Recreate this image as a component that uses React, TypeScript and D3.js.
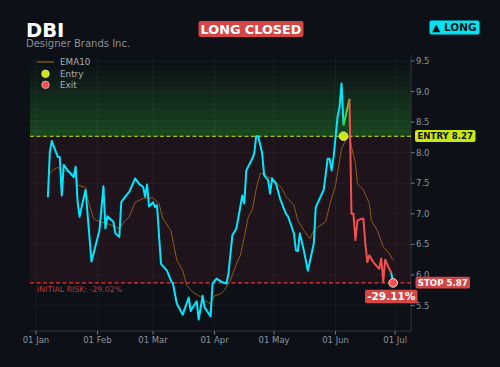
import React, { useEffect, useRef } from 'react';
import * as d3 from 'd3';

// Daily closes, as day offsets from 01 Jan 2025
const priceDay = [6, 7, 8, 11, 12, 13, 14, 16, 19, 20, 21, 22, 23, 25, 28, 32, 34, 35, 36, 39, 40, 42, 43, 45, 47, 50, 52, 54, 55, 56, 57, 59, 60, 61, 63, 66, 68, 69, 71, 74, 75, 77, 78, 79, 81, 82, 84, 85, 88, 89, 91, 94, 96, 97, 99, 101, 104, 105, 106, 109, 110, 111, 112, 114, 115, 117, 118, 119, 121, 123, 126, 127, 130, 131, 132, 133, 135, 137, 140, 141, 145, 147, 148, 149, 150, 152, 153, 154, 155, 158, 159, 160, 161, 162, 164, 165, 166, 167, 168, 170, 173, 174, 175, 176, 178, 179, 180];
const priceClose = [7.27, 8.01, 8.19, 7.93, 7.93, 7.30, 7.80, 7.71, 7.60, 7.77, 7.19, 6.95, 7.11, 7.39, 6.22, 6.73, 7.45, 6.76, 6.96, 6.87, 6.68, 6.62, 7.19, 7.28, 7.36, 7.58, 7.49, 7.44, 7.28, 7.48, 7.12, 7.19, 7.11, 7.14, 6.18, 6.07, 5.91, 5.86, 5.53, 5.35, 5.45, 5.63, 5.41, 5.47, 5.57, 5.27, 5.66, 5.47, 5.32, 5.86, 5.94, 5.88, 5.86, 6.02, 6.65, 6.76, 7.30, 7.17, 7.71, 7.90, 7.99, 8.27, 8.27, 7.99, 7.63, 7.55, 7.33, 7.58, 7.49, 7.25, 7.00, 6.96, 6.68, 6.40, 6.39, 6.68, 6.40, 6.07, 6.51, 7.11, 7.39, 7.90, 7.90, 7.71, 7.93, 8.59, 8.75, 9.13, 8.45, 8.88, 7.00, 7.00, 6.57, 6.89, 6.92, 6.92, 6.51, 6.21, 6.32, 6.21, 6.10, 6.27, 5.89, 6.25, 6.10, 6.04, 5.87];

const emaDay = [7, 8, 11, 13, 15, 18, 20, 21, 25, 26, 29, 32, 36, 39, 42, 45, 47, 50, 54, 57, 59, 62, 64, 68, 71, 74, 76, 79, 83, 85, 88, 90, 93, 95, 98, 101, 103, 105, 107, 109, 111, 113, 115, 117, 119, 121, 124, 126, 130, 132, 135, 138, 140, 142, 146, 148, 151, 154, 156, 158, 159, 161, 162, 165, 168, 169, 172, 175, 178, 180];
const emaValue = [7.65, 7.70, 7.76, 7.72, 7.70, 7.67, 7.65, 7.47, 7.43, 7.25, 6.92, 6.87, 6.84, 6.80, 6.76, 6.89, 6.95, 7.19, 7.25, 7.26, 7.26, 7.17, 6.92, 6.73, 6.24, 6.07, 5.83, 5.72, 5.64, 5.58, 5.53, 5.66, 5.69, 5.75, 5.91, 6.18, 6.32, 6.62, 6.95, 7.06, 7.41, 7.66, 7.66, 7.60, 7.58, 7.52, 7.41, 7.28, 7.14, 6.89, 6.73, 6.59, 6.73, 6.78, 6.87, 7.14, 7.47, 8.07, 8.20, 8.26, 8.10, 7.82, 7.49, 7.39, 7.17, 6.89, 6.73, 6.46, 6.35, 6.24];

// trade
const entryDay = 155;
const peakDay = 158;
const lastRedDay = 179;
const exitDay = 180;
const entryPrice = 8.27;
const stopPrice = 5.87;
const tradeReturn = '-29.11%';
const initialRisk = '-29.02%';

const yTicks = [5.5, 6.0, 6.5, 7.0, 7.5, 8.0, 8.5, 9.0, 9.5];

const BG = '#0d1117';
const CYAN = '#00e8ff';
const GREEN = '#3ae02a';
const RED = '#f0524f';
const ENTRY_C = '#cbe80c';
const BADGE_RED = '#d64545';
const FONT = 'DejaVu Sans, sans-serif';

const base = new Date(2025, 0, 1);
const toDate = (d: number) => d3.timeDay.offset(base, d);

export default function App() {
  const svgRef = useRef<SVGSVGElement>(null);

  useEffect(() => {
    const width = 500;
    const height = 367;
    const left = 30, right = 411, top = 55, bottom = 331;

    const svg = d3.select(svgRef.current);
    svg.selectAll('*').remove();
    svg.attr('width', width).attr('height', height);

    svg.append('rect').attr('width', width).attr('height', height).attr('fill', BG);

    const x = d3.scaleTime()
      .domain([new Date(2024, 11, 29), new Date(2025, 6, 9)])
      .range([left, right]);
    const y = d3.scaleLinear().domain([5.083, 9.598]).range([bottom, top]);

    const prices = priceDay.map((d, i) => ({ date: toDate(d), day: d, v: priceClose[i] }));
    const ema = emaDay.map((d, i) => ({ date: toDate(d), v: emaValue[i] }));

    // profit zone (gradient bands above entry)
    const yEntry = y(entryPrice);
    const yStop = y(stopPrice);
    const bands = 45;
    const bandH = (yEntry - top) / bands;
    const zone = svg.append('g');
    for (let i = 0; i < bands; i++) {
      const t = (i + 1) / bands;
      zone.append('rect')
        .attr('x', left).attr('width', right - left)
        .attr('y', top + i * bandH).attr('height', bandH + 0.3)
        .attr('fill', '#2e9a2e')
        .attr('opacity', 0.36 * Math.pow(t, 1.3) * (i % 3 === 0 ? 1.15 : 1));
    }
    // risk zone
    svg.append('rect')
      .attr('x', left).attr('width', right - left)
      .attr('y', yEntry).attr('height', yStop - yEntry)
      .attr('fill', '#c83240').attr('opacity', 0.1);

    // grid
    const monthTicks = d3.timeMonth.range(new Date(2025, 0, 1), new Date(2025, 6, 2));
    const grid = svg.append('g').attr('stroke', '#ffffff').attr('stroke-opacity', 0.05).attr('stroke-width', 0.8);
    monthTicks.forEach(m => {
      grid.append('line').attr('x1', x(m)).attr('x2', x(m)).attr('y1', top).attr('y2', bottom);
    });
    yTicks.forEach(t => {
      grid.append('line').attr('x1', left).attr('x2', right).attr('y1', y(t)).attr('y2', y(t));
    });

    // spines
    svg.append('line').attr('x1', right).attr('x2', right).attr('y1', top).attr('y2', bottom)
      .attr('stroke', '#30363d').attr('stroke-width', 1);
    svg.append('line').attr('x1', left).attr('x2', right).attr('y1', bottom).attr('y2', bottom)
      .attr('stroke', '#30363d').attr('stroke-width', 1);

    // y axis
    const yAxis = svg.append('g');
    yTicks.forEach(t => {
      yAxis.append('line').attr('x1', right).attr('x2', right + 3.5).attr('y1', y(t)).attr('y2', y(t))
        .attr('stroke', '#8b949e').attr('stroke-width', 0.8);
      yAxis.append('text').attr('x', right + 5).attr('y', y(t) + 3)
        .attr('font-family', FONT).attr('font-size', 8.5).attr('fill', '#8b949e')
        .text(t.toFixed(1));
    });

    // x axis
    const fmt = d3.timeFormat('%d %b');
    const xAxis = svg.append('g');
    monthTicks.forEach(m => {
      xAxis.append('line').attr('x1', x(m)).attr('x2', x(m)).attr('y1', bottom).attr('y2', bottom + 3.5)
        .attr('stroke', '#8b949e').attr('stroke-width', 0.8);
      xAxis.append('text').attr('x', x(m)).attr('y', bottom + 12)
        .attr('text-anchor', 'middle')
        .attr('font-family', FONT).attr('font-size', 8.5).attr('fill', '#8b949e')
        .text(fmt(m));
    });

    // entry / stop lines
    svg.append('line').attr('x1', left).attr('x2', right).attr('y1', yEntry).attr('y2', yEntry)
      .attr('stroke', ENTRY_C).attr('stroke-width', 1.1).attr('stroke-dasharray', '4,2.5');
    svg.append('line').attr('x1', left).attr('x2', right).attr('y1', yStop).attr('y2', yStop)
      .attr('stroke', '#e5393b').attr('stroke-width', 1.1).attr('stroke-dasharray', '4,2.5');

    svg.append('text').attr('x', 37).attr('y', 291.5)
      .attr('font-family', FONT).attr('font-size', 7.8).attr('fill', '#b83a3c')
      .text(`INITIAL RISK: ${initialRisk}`);

    // EMA
    const line = d3.line<{ date: Date; v: number }>().x(d => x(d.date)).y(d => y(d.v));
    svg.append('path').datum(ema).attr('d', line)
      .attr('fill', 'none').attr('stroke', '#8d5a1b').attr('stroke-width', 1);

    // price segments
    const seg = (a: number, b: number, color: string) => {
      svg.append('path')
        .datum(prices.filter(p => p.day >= a && p.day <= b))
        .attr('d', line)
        .attr('fill', 'none').attr('stroke', color).attr('stroke-width', 2)
        .attr('stroke-linejoin', 'round');
    };
    seg(0, entryDay, CYAN);
    seg(entryDay, peakDay, GREEN);
    seg(peakDay, lastRedDay, RED);
    seg(lastRedDay, exitDay, CYAN);

    // markers
    svg.append('circle').attr('cx', x(toDate(entryDay))).attr('cy', yEntry).attr('r', 4.3)
      .attr('fill', ENTRY_C).attr('stroke', '#f4ffc0').attr('stroke-width', 0.8);
    svg.append('circle').attr('cx', x(toDate(exitDay))).attr('cy', yStop).attr('r', 4.3)
      .attr('fill', RED).attr('stroke', '#ffd8d8').attr('stroke-width', 1);

    // badges
    const badge = (bx: number, by: number, bw: number, bh: number, fill: string, label: string,
      color: string, size: number) => {
      svg.append('rect').attr('x', bx).attr('y', by).attr('width', bw).attr('height', bh)
        .attr('rx', 2).attr('fill', fill);
      svg.append('text').attr('x', bx + bw / 2).attr('y', by + bh / 2 + size * 0.36)
        .attr('text-anchor', 'middle')
        .attr('font-family', FONT).attr('font-weight', 'bold').attr('font-size', size).attr('fill', color)
        .text(label);
    };
    badge(415, 130, 60.5, 12, ENTRY_C, `ENTRY ${entryPrice.toFixed(2)}`, '#0d1117', 8.6);
    badge(415.5, 276.8, 54.5, 11.8, BADGE_RED, `STOP ${stopPrice.toFixed(2)}`, '#ffffff', 8.6);
    badge(365, 289.8, 52.5, 13.5, BADGE_RED, tradeReturn, '#ffffff', 10.5);
    badge(198.5, 21, 105, 16, BADGE_RED, 'LONG CLOSED', '#ffffff', 12.8);
    badge(429.5, 20.5, 50, 14, '#00e5f5', '▲ LONG', '#0d1117', 10.5);

    // title
    svg.append('text').attr('x', 26).attr('y', 36.8)
      .attr('font-family', FONT).attr('font-weight', 'bold').attr('font-size', 19.5).attr('fill', '#ffffff')
      .text('DBI');
    svg.append('text').attr('x', 26).attr('y', 46.5)
      .attr('font-family', FONT).attr('font-size', 10).attr('fill', '#8b8f97')
      .text('Designer Brands Inc.');

    // legend
    const lg = svg.append('g').attr('font-family', FONT).attr('font-size', 8.8).attr('fill', '#a8adb4');
    lg.append('line').attr('x1', 37).attr('x2', 54).attr('y1', 62).attr('y2', 62)
      .attr('stroke', '#8d5a1b').attr('stroke-width', 1.3);
    lg.append('text').attr('x', 60).attr('y', 65.2).text('EMA10');
    lg.append('circle').attr('cx', 45.5).attr('cy', 73.8).attr('r', 3.8)
      .attr('fill', ENTRY_C).attr('stroke', '#f4ffc0').attr('stroke-width', 0.6);
    lg.append('text').attr('x', 60).attr('y', 76.5).text('Entry');
    lg.append('circle').attr('cx', 45.5).attr('cy', 84.8).attr('r', 3.8)
      .attr('fill', RED).attr('stroke', '#ffd0d0').attr('stroke-width', 0.6);
    lg.append('text').attr('x', 60).attr('y', 87.5).text('Exit');
  }, []);

  return (
    <div style={{ position: 'absolute', left: 0, top: 0 }}>
      <svg ref={svgRef} style={{ display: 'block' }} />
    </div>
  );
}
